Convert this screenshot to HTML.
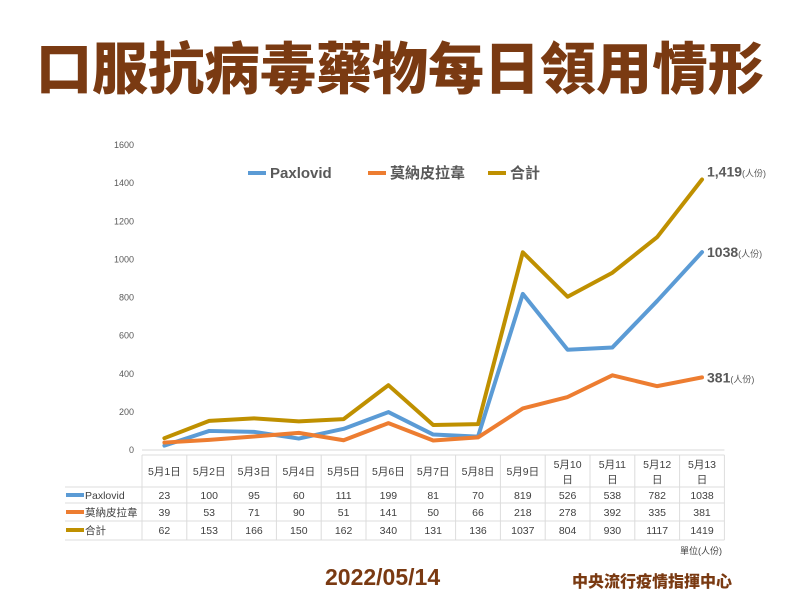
<!DOCTYPE html>
<html><head><meta charset="utf-8"><style>
body{margin:0;background:#fff;font-family:"Liberation Sans","Noto Sans CJK TC",sans-serif;}
#wrap{position:relative;width:800px;height:600px;overflow:hidden;}
.title{position:absolute;left:0;top:25px;width:800px;text-align:center;font-size:56px;font-weight:900;color:#7a3a12;font-family:"Noto Sans CJK TC",sans-serif;}
.date{position:absolute;left:325px;top:564px;font-size:23px;font-weight:bold;color:#7a3a12;}
.org{position:absolute;left:572px;top:568px;font-size:16px;font-weight:900;color:#7a3a12;font-family:"Noto Sans CJK TC",sans-serif;}
</style></head><body>
<div id="wrap">
<div class="title">口服抗病毒藥物每日領用情形</div>
<svg id="chart" width="800" height="600" style="position:absolute;left:0;top:0"></svg>
<div class="date">2022/05/14</div>
<div class="org">中央流行疫情指揮中心</div>
</div>
<script>
const categories=["5月1日","5月2日","5月3日","5月4日","5月5日","5月6日","5月7日","5月8日","5月9日","5月10日","5月11日","5月12日","5月13日"];
const paxlovid=[23,100,95,60,111,199,81,70,819,526,538,782,1038];
const molnupiravir=[39,53,71,90,51,141,50,66,218,278,392,335,381];
const total=[62,153,166,150,162,340,131,136,1037,804,930,1117,1419];
const yTicks=[0,200,400,600,800,1000,1200,1400,1600];
const seriesNames=["Paxlovid","莫納皮拉韋","合計"];
const NS="http://www.w3.org/2000/svg";
const svg=document.getElementById('chart');
const colors=["#5b9bd5","#ed7d31","#bf9000"];
const x0=142,colW=44.8,y0=450,yMax=1600,plotH=305;
const xs=i=>x0+colW*(i+0.5);
const ys=v=>y0-v/yMax*plotH;
function el(t,a,txt){const e=document.createElementNS(NS,t);for(const k in a)e.setAttribute(k,a[k]);if(txt!==undefined)e.textContent=txt;svg.appendChild(e);return e;}
yTicks.forEach(v=>{
 const t=el('text',{x:134,y:ys(v)+3,'text-anchor':'end','font-size':9,fill:'#595959'},v);
 
 
});
const axis=el('line',{x1:x0,x2:x0+colW*13,y1:y0,y2:y0,stroke:'#d9d9d9'});


const rowY=[455,487,503,521,540];
const tg='#dcdcdc';
for(let r=0;r<rowY.length;r++){
 const l=el('line',{x1:r==0?x0:65,x2:x0+colW*13,y1:rowY[r],y2:rowY[r],stroke:tg});
 
 
}
for(let c=0;c<=13;c++){
 const l=el('line',{x1:x0+colW*c,x2:x0+colW*c,y1:455,y2:540,stroke:tg});
 
 
}
categories.forEach((c,i)=>{
 if(c.length>4){
  const a=el('text',{x:xs(i),y:468,'text-anchor':'middle','font-size':10.5,fill:'#404040'},c.slice(0,-1));
  
  
  const b=el('text',{x:xs(i),y:483,'text-anchor':'middle','font-size':10.5,fill:'#404040'},'日');
  
  
 } else {
  const a=el('text',{x:xs(i),y:475,'text-anchor':'middle','font-size':10.5,fill:'#404040'},c);
  
  
 }
});
const allSeries=[paxlovid,molnupiravir,total];
allSeries.forEach((s,k)=>{
 const cy=[499,516,534][k];
 const key=el('line',{x1:66,x2:84,y1:cy-4,y2:cy-4,stroke:colors[k],'stroke-width':4});
 
 
 const nm=el('text',{x:85,y:cy,'font-size':10.5,fill:'#404040'},seriesNames[k]);
 
 
 s.forEach((v,i)=>{
  const t=el('text',{x:xs(i),y:cy,'text-anchor':'middle','font-size':10.5,fill:'#404040'},v);
  
  
 });
});
const u=el('text',{x:722,y:554,'text-anchor':'end','font-size':9,fill:'#404040'},'單位(人份)');


allSeries.forEach((s,k)=>{
 const p=el('polyline',{points:s.map((v,i)=>xs(i)+','+ys(v)).join(' '),fill:'none',stroke:colors[k],'stroke-width':4,'stroke-linejoin':'round','stroke-linecap':'round'});
 
 
});
const endLbl=[paxlovid[12].toString(),molnupiravir[12].toString(),total[12].toLocaleString('en-US')];
allSeries.forEach((s,k)=>{
 const t=el('text',{x:707,y:ys(s[12])+(k==2?-3:5),'font-size':14,'font-weight':'bold',fill:'#595959'},'');
 
 
 const a=document.createElementNS(NS,'tspan');a.textContent=endLbl[k];t.appendChild(a);
 const b=document.createElementNS(NS,'tspan');b.setAttribute('font-size','9');b.setAttribute('font-weight','normal');b.textContent='(人份)';t.appendChild(b);
});
const lx=[248,368,488];
seriesNames.forEach((n,k)=>{
 const l=el('line',{x1:lx[k],x2:lx[k]+18,y1:173,y2:173,stroke:colors[k],'stroke-width':4});
 
 
 const t=el('text',{x:lx[k]+22,y:178,'font-size':15,'font-weight':'bold',fill:'#595959'},n);
 
 
});
</script>
</body></html>
